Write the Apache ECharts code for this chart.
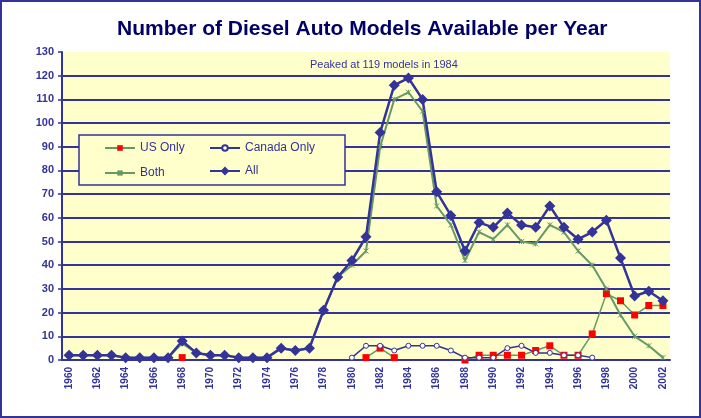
<!DOCTYPE html>
<html>
<head>
<meta charset="utf-8">
<script src="https://cdn.jsdelivr.net/npm/echarts@6/dist/echarts.min.js"></script>
<style>
  html, body { margin: 0; padding: 0; background: #fff; }
  #main { width: 701px; height: 418px; box-sizing: border-box; border: 2px solid #333399; }
</style>
</head>
<body>
<div id="main"></div>
<script>
// years on the x axis
var years = [];
for (var y = 1960; y <= 2002; y++) years.push(String(y));

// values (null = no point)
var usOnly = [null, null, null, null, null, null, null, null, 1, null,
  null, null, null, null, null, null, null, null, null, null,
  null, 1, 5, 1, null, null, null, null, 0, 2,
  2, 2, 2, 4, 6, 2, 2, 11, 28, 25,
  19, 23, 23];
var canadaOnly = [null, null, null, null, null, null, null, null, null, null,
  null, null, null, null, null, null, null, null, null, null,
  1, 6, 6, 4, 6, 6, 6, 4, 1, 1,
  1, 5, 6, 3, 3, 2, 2, 1, null, null,
  null, null, null];
var both = [2, 2, 2, 2, 1, 1, 1, 1, 7, 3,
  2, 2, 1, 1, 1, 5, 4, 5, 21, 35,
  40, 46, 90, 110, 113, 105, 65, 57, 42, 54,
  51, 57, 50, 49, 57, 54, 46, 40, 30, 19,
  10, 6, 1];
var all = [2, 2, 2, 2, 1, 1, 1, 1, 8, 3,
  2, 2, 1, 1, 1, 5, 4, 5, 21, 35,
  42, 52, 96, 116, 119, 110, 71, 61, 46, 58,
  56, 62, 57, 56, 65, 56, 51, 54, 59, 43,
  27, 29, 25];
var yTicks = [0, 130, 10];

var navy = '#333399';
var green = '#669966';

var chart = echarts.init(document.getElementById('main'));

var option = {
  animation: false,
  title: {
    text: 'Number of Diesel Auto Models Available per Year',
    left: 110,
    top: 12,
    textStyle: { fontFamily: 'Liberation Sans', fontWeight: 'bold', fontSize: 21, color: '#000066' }
  },
  legend: [
    { data: ['US Only'], left: 102, top: 140, itemHeight: 7 },
    { data: ['Canada Only'], left: 207, top: 140, itemHeight: 7 },
    { data: ['Both'], left: 102, top: 165, itemHeight: 6 },
    { data: ['All'], left: 207, top: 163, itemHeight: 11 }
  ].map(function (l) {
    l.itemWidth = 30; l.padding = 0; l.z = 10;
    l.textStyle = { fontFamily: 'Liberation Sans', fontSize: 12, color: navy };
    return l;
  }),
  graphic: [
    {
      type: 'rect', z: 5,
      shape: { x: 77, y: 133, width: 266, height: 50 },
      style: { fill: '#ffffcc', stroke: navy, lineWidth: 1.5 }
    },
    {
      type: 'text', z: 5, left: 308, top: 57,
      style: { text: 'Peaked at 119 models in 1984', fontFamily: 'Liberation Sans', fontSize: 11, fill: navy }
    }
  ],
  grid: {
    left: 60, right: 29, top: 50, bottom: 56,
    show: true, backgroundColor: '#ffffcc', borderWidth: 0
  },
  xAxis: {
    type: 'category',
    data: years,
    boundaryGap: true,
    axisLine: { lineStyle: { color: navy, width: 2 } },
    axisTick: { interval: 0, length: 4, lineStyle: { color: navy, width: 1.5 } },
    axisLabel: {
      interval: 1, rotate: 90, margin: 7,
      fontFamily: 'Liberation Sans', fontWeight: 'bold', fontSize: 10, color: navy
    },
    splitLine: { show: false }
  },
  yAxis: {
    type: 'value',
    min: yTicks[0], max: yTicks[1], interval: yTicks[2],
    axisLine: { show: true, lineStyle: { color: navy, width: 2 } },
    axisTick: { show: true, length: 4, lineStyle: { color: navy, width: 1.5 } },
    axisLabel: { fontFamily: 'Liberation Sans', fontWeight: 'bold', fontSize: 11, color: navy, margin: 8 },
    splitLine: {
      lineStyle: {
        width: 2,
        color: [navy, navy, navy, navy, navy, navy, navy, navy, navy, navy, navy, navy, navy, 'rgba(0,0,0,0)']
      }
    }
  },
  series: [
    {
      name: 'US Only', type: 'line', data: usOnly, showAllSymbol: true,
      symbol: 'rect', symbolSize: 7,
      lineStyle: { color: green, width: 1.5 },
      itemStyle: { color: '#ff0000' }
    },
    {
      name: 'Canada Only', type: 'line', data: canadaOnly, showAllSymbol: true,
      symbol: 'circle', symbolSize: 5,
      lineStyle: { color: navy, width: 1.5 },
      itemStyle: { color: '#ffffff', borderColor: navy, borderWidth: 1 }
    },
    {
      name: 'Both', type: 'line', data: both, showAllSymbol: true,
      symbol: 'path://M0,0L10,10M10,0L0,10M5,0L5,10', symbolSize: 5,
      lineStyle: { color: green, width: 2 },
      itemStyle: { color: green, borderColor: green, borderWidth: 1 }
    },
    {
      name: 'All', type: 'line', data: all, showAllSymbol: true,
      symbol: 'diamond', symbolSize: 11,
      lineStyle: { color: navy, width: 2.5 },
      itemStyle: { color: navy }
    }
  ]
};

chart.setOption(option);
</script>
</body>
</html>
